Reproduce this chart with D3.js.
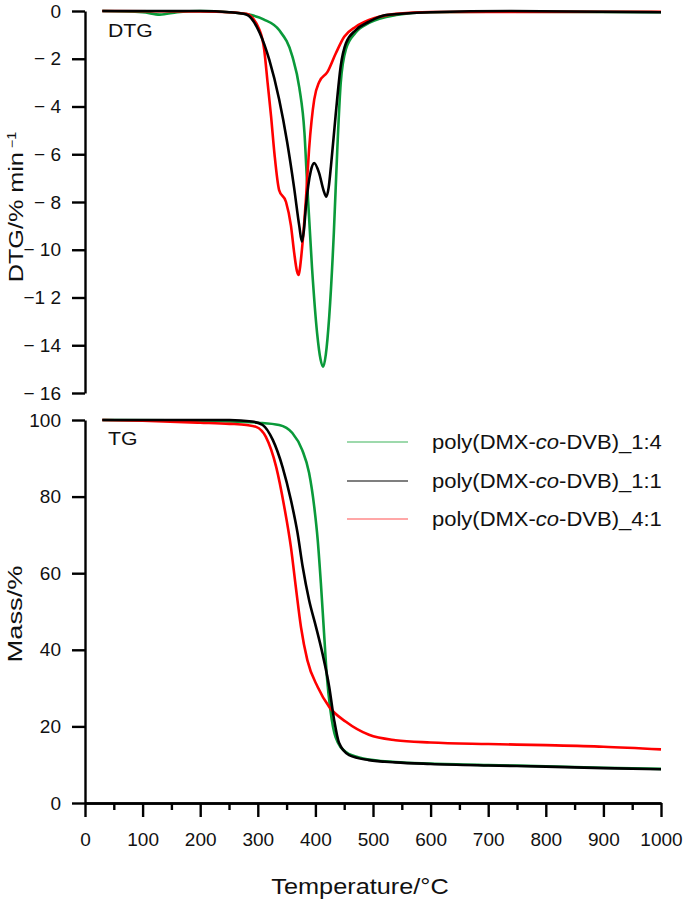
<!DOCTYPE html>
<html>
<head>
<meta charset="utf-8">
<script src="https://cdn.jsdelivr.net/npm/d3@7/dist/d3.min.js"></script>
<style>
body{margin:0;background:#fff;}
svg text{font-family:"Liberation Sans",Arial,sans-serif;fill:#111;}
</style>
</head>
<body>
<svg id="chart" width="685" height="900"></svg>
<script>
// ---------- data ----------
const seriesNames = ["poly(DMX-co-DVB)_1:4","poly(DMX-co-DVB)_1:1","poly(DMX-co-DVB)_4:1"];
const seriesColors = ["#0a9a3a","#000000","#ff0000"];

const xTicks = [0,100,200,300,400,500,600,700,800,900,1000];
const xMinorTicks = [50,150,250,350,450,550,650,750,850,950];
const dtgTicks = [0,-2,-4,-6,-8,-10,-12,-14,-16];
const dtgTickLabels = ["0","\u2212 2","\u2212 4","\u2212 6","\u2212 8","\u2212 10","\u22121 2","\u2212 14","\u2212 16"];
const tgTicks = [0,20,40,60,80,100];

// DTG curves [temperature °C, DTG %/min]
const dtg14 = [[30,0],[100,-0.05],[130,-0.15],[160,-0.05],[200,0],[250,-0.05],[285,-0.15],[310,-0.35],[337,-0.8],[360,-1.9],[372,-3.2],[381,-5.1],[386,-7.4],[394,-10.7],[403,-13.5],[409,-14.6],[413.5,-14.9],[418,-14.4],[424,-12.8],[432,-9.3],[438,-5.8],[444,-3.0],[453,-1.6],[470,-0.9],[493,-0.5],[540,-0.17],[600,-0.05],[700,-0.03],[1000,-0.05]];
const dtg11 = [[30,0],[200,0],[251,-0.05],[280,-0.15],[303,-0.9],[320,-2.05],[337,-3.7],[351,-5.5],[363,-7.4],[372,-9.0],[376.6,-9.66],[380,-9.2],[383.5,-8.2],[392,-6.7],[398,-6.37],[406.6,-6.8],[414,-7.5],[419,-7.78],[423,-7.4],[427,-6.5],[435,-4.4],[444,-2.3],[453,-1.35],[470,-0.8],[493,-0.45],[522,-0.17],[600,-0.05],[740,0.0],[1000,-0.05]];
const dtg41 = [[30,0],[200,-0.02],[250,-0.05],[280,-0.12],[303,-0.8],[311,-1.6],[317,-3.0],[323,-4.4],[329,-6.0],[337,-7.5],[349,-8.0],[357.6,-9.0],[363,-10.1],[368,-10.9],[370.8,-11.06],[373,-10.8],[376.6,-10.0],[383.5,-7.9],[389,-5.8],[398,-3.7],[406.6,-2.97],[421,-2.55],[435.5,-1.77],[450,-1.08],[470,-0.66],[493,-0.38],[540,-0.12],[600,-0.04],[1000,-0.03]];

// TG curves [temperature °C, mass %]
const tg14 = [[30,100],[150,99.9],[251,99.6],[300,99.3],[337,98.7],[360,96.6],[377,92.2],[389,86.2],[398,77.3],[404,68.7],[409.5,57.4],[415,44.4],[420,32.9],[426,24.3],[435,17.2],[453,13.3],[481,11.7],[539,10.7],[600,10.3],[700,9.9],[800,9.6],[900,9.2],[1000,8.9]];
const tg11 = [[30,100],[251,100],[290,99.6],[308.5,98.7],[326,94.8],[343,87.7],[357.5,79.1],[369,70.5],[378,61.6],[389,53.0],[401,46.0],[412,39.2],[424,30.3],[432.5,21.7],[441,15.7],[458.5,12.5],[493,11.2],[539,10.6],[600,10.2],[700,9.8],[800,9.5],[900,9.1],[1000,8.8]];
const tg41 = [[30,100],[100,99.8],[200,99.3],[251,99.0],[280,98.7],[297,98.2],[314,95.6],[332,87.7],[346,77.3],[357.5,66.8],[366,56.4],[375,45.9],[386,37.3],[404,30.3],[424,25.1],[453,21.2],[493,17.8],[539,16.4],[600,15.8],[700,15.4],[800,15.1],[900,14.7],[1000,14.0]];

// ---------- layout ----------
const svg = d3.select("#chart");
const x = d3.scaleLinear().domain([0,1000]).range([85,661]);
const yD = d3.scaleLinear().domain([0,-16]).range([11,393]);
const yT = d3.scaleLinear().domain([0,100]).range([803,420]);

const AX_W = 2.4;

function styleAxis(g){
  g.select(".domain").attr("stroke","#000").attr("stroke-width",AX_W);
  g.selectAll(".tick line").attr("stroke","#000").attr("stroke-width",AX_W);
  g.selectAll(".tick text").attr("font-size","19px").attr("font-family","'Liberation Sans',Arial,sans-serif").attr("fill","#111");
}

// DTG y axis
const gD = svg.append("g").attr("transform","translate(85,0)")
  .call(d3.axisLeft(yD).tickValues(dtgTicks).tickFormat((d,i)=>dtgTickLabels[i]).tickSize(13).tickSizeOuter(0).tickPadding(11));
styleAxis(gD);

// TG y axis
const gT = svg.append("g").attr("transform","translate(85,0)")
  .call(d3.axisLeft(yT).tickValues(tgTicks).tickFormat(d3.format("d")).tickSize(13).tickSizeOuter(0).tickPadding(11));
styleAxis(gT);

// x axis (major + minor)
const gXm = svg.append("g").attr("transform","translate(0,803)")
  .call(d3.axisBottom(x).tickValues(xMinorTicks).tickFormat("").tickSize(7).tickSizeOuter(0));
styleAxis(gXm);
const gX = svg.append("g").attr("transform","translate(0,803)")
  .call(d3.axisBottom(x).tickValues(xTicks).tickFormat(d3.format("d")).tickSize(14).tickSizeOuter(0).tickPadding(16));
styleAxis(gX);

// curves
const lineD = d3.line().x(d=>x(d[0])).y(d=>yD(d[1])).curve(d3.curveMonotoneX);
const lineT = d3.line().x(d=>x(d[0])).y(d=>yT(d[1])).curve(d3.curveMonotoneX);
const dtgSeries = [dtg14, dtg11, dtg41];
const tgSeries = [tg14, tg11, tg41];
[0,2,1].forEach(i=>{
  svg.append("path").attr("d",lineD(dtgSeries[i])).attr("fill","none")
    .attr("stroke",seriesColors[i]).attr("stroke-width",2.6).attr("stroke-linejoin","round");
});
[0,2,1].forEach(i=>{
  svg.append("path").attr("d",lineT(tgSeries[i])).attr("fill","none")
    .attr("stroke",seriesColors[i]).attr("stroke-width",2.6).attr("stroke-linejoin","round");
});

// panel labels
svg.append("text").attr("transform","translate(108,37) scale(1.18,1)").attr("font-size","18px").text("DTG");
svg.append("text").attr("transform","translate(108,445) scale(1.18,1)").attr("font-size","18px").text("TG");

// axis titles
const yt1 = svg.append("text").attr("transform","translate(23,207) rotate(-90) scale(1.2,1)")
  .attr("text-anchor","middle").attr("font-size","21px");
yt1.append("tspan").text("DTG/% min");
yt1.append("tspan").attr("font-size","12px").attr("dy","-7").text(" \u22121");

svg.append("text").attr("transform","translate(22,614) rotate(-90) scale(1.3,1)")
  .attr("text-anchor","middle").attr("font-size","21px").text("Mass/%");

svg.append("text").attr("transform","translate(360,894) scale(1.15,1)").attr("text-anchor","middle")
  .attr("font-size","22px").text("Temperature/\u00B0C");

// legend
const legY = [442,481,519];
const legendColors = ["#3cb45a","#000000","#ff5050"];
seriesNames.forEach((name,i)=>{
  svg.append("line").attr("x1",347).attr("x2",408).attr("y1",legY[i]).attr("y2",legY[i])
    .attr("stroke",legendColors[i]).attr("stroke-width",1.2);
  const parts = name.split("co");
  const t = svg.append("text").attr("transform",`translate(432,${legY[i]+7}) scale(1.1,1)`).attr("font-size","20px");
  t.append("tspan").text(parts[0]);
  t.append("tspan").attr("font-style","italic").text("co");
  t.append("tspan").text(parts[1]);
});
</script>
</body>
</html>
